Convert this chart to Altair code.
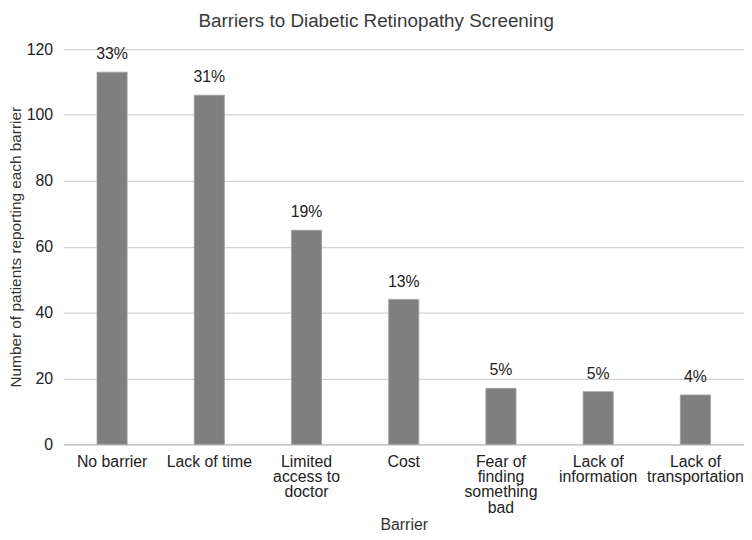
import altair as alt
import pandas as pd

barriers = [
    "No barrier",
    "Lack of time",
    "Limited\naccess to\ndoctor",
    "Cost",
    "Fear of\nfinding\nsomething\nbad",
    "Lack of\ninformation",
    "Lack of\ntransportation",
]
counts = [113, 106, 65, 44, 17, 16, 15]
pct_labels = ["33%", "31%", "19%", "13%", "5%", "5%", "4%"]
y_ticks = [0, 20, 40, 60, 80, 100, 120]

df = pd.DataFrame({"barrier": barriers, "count": counts, "pct": pct_labels})

FONT = "Liberation Sans"

x_enc = alt.X(
    "barrier:N",
    sort=None,
    title="Barrier",
    scale=alt.Scale(paddingInner=0.69, paddingOuter=0.345),
    axis=alt.Axis(
        labelAngle=0,
        labelExpr="split(datum.label, '\\n')",
        labelLineHeight=15.5,
        labelBaseline="top",
        labelPadding=9,
        ticks=False,
        domainColor="#c8c8c8",
        domainWidth=1.5,
        grid=False,
        titleBaseline="alphabetic",
        titleY=86,
    ),
)

base = alt.Chart(df).encode(x=x_enc)

bars = base.mark_bar(color="#7f7f7f", stroke="#a0a0a0", strokeWidth=0.8).encode(
    y=alt.Y(
        "count:Q",
        title="Number of patients reporting each barrier",
        scale=alt.Scale(domain=[0, 120], nice=False),
        axis=alt.Axis(
            values=y_ticks,
            ticks=False,
            domain=False,
            labelPadding=11,
            gridColor="#d4d4d4",
            gridWidth=1.3,
            titlePadding=3,
        ),
    )
)

text = base.mark_text(
    dy=-13, baseline="alphabetic", fontSize=16, font=FONT, color="#222222"
).encode(y=alt.Y("count:Q"), text="pct:N")

chart = (
    alt.layer(bars, text)
    .properties(
        width=687,
        height=399,
        title=alt.Title(
            "Barriers to Diabetic Retinopathy Screening",
            anchor="middle",
            frame="bounds",
            fontSize=19,
            font=FONT,
            fontWeight="normal",
            color="#3a3a3a",
            offset=10,
        ),
        padding={"left": 56, "top": 39, "right": 0, "bottom": 86},
        autosize=alt.AutoSizeParams(type="none"),
    )
    .configure_view(stroke=None)
    .configure_axis(
        labelFont=FONT,
        titleFont=FONT,
        labelFontSize=16,
        titleFontSize=15.5,
        labelColor="#222222",
        titleColor="#333333",
        titleFontWeight="normal",
    )
    .configure_axisX(titleFontSize=16)
)

chart.save("out.html", embed_options={"renderer": "svg", "actions": False})
